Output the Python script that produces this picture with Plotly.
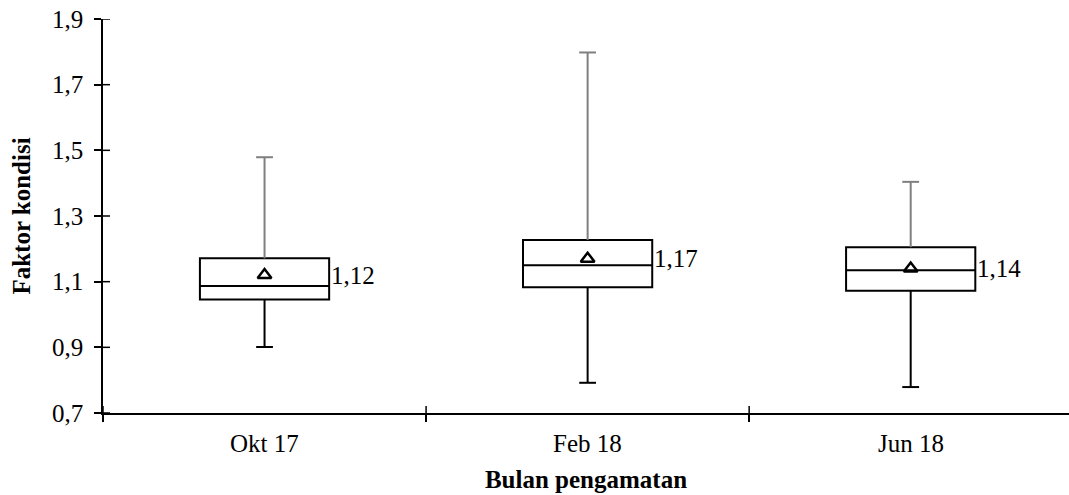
import plotly.graph_objects as go

# Condition factor by observation month
months = ["Okt 17", "Feb 18", "Jun 18"]
whisker_low = [0.901, 0.792, 0.779]
q1 = [1.046, 1.083, 1.072]
median = [1.087, 1.150, 1.135]
q3 = [1.171, 1.227, 1.205]
whisker_high = [1.479, 1.798, 1.404]
mean = [1.12, 1.17, 1.14]
mean_labels = ["1,12", "1,17", "1,14"]
y_ticks = [0.7, 0.9, 1.1, 1.3, 1.5, 1.7, 1.9]
y_tick_text = ["0,7", "0,9", "1,1", "1,3", "1,5", "1,7", "1,9"]

# numeric slot for each month; ticks sit on the slot boundaries
x_pos = list(range(len(months)))
x_bounds = [p - 0.5 for p in x_pos] + [x_pos[-1] + 0.5]

FONT = "Liberation Serif, Times New Roman, serif"
FS = 25
GRAY = "#7f7f7f"
TICK_LEN = 7

fig = go.Figure()

# Upper whiskers (gray) and lower whiskers (black)
for i, p in enumerate(x_pos):
    fig.add_trace(go.Scatter(
        x=[p, p], y=[q3[i], whisker_high[i]], mode="lines",
        line=dict(color=GRAY, width=2), hoverinfo="skip", showlegend=False))
    fig.add_trace(go.Scatter(
        x=[p, p], y=[q1[i], whisker_low[i]], mode="lines",
        line=dict(color="black", width=2), hoverinfo="skip", showlegend=False))

# Whisker caps
fig.add_trace(go.Scatter(
    x=x_pos, y=whisker_high, mode="markers",
    marker=dict(symbol="line-ew", size=12, line=dict(color=GRAY, width=2)),
    hoverinfo="skip", showlegend=False))
fig.add_trace(go.Scatter(
    x=x_pos, y=whisker_low, mode="markers",
    marker=dict(symbol="line-ew", size=12, line=dict(color="black", width=2)),
    hoverinfo="skip", showlegend=False))

# Box bodies
fig.add_trace(go.Box(
    x=x_pos, q1=q1, median=median, q3=q3,
    lowerfence=q1, upperfence=q3,
    width=0.4, whiskerwidth=0,
    fillcolor="white", line=dict(color="black", width=2),
    hoverinfo="skip", showlegend=False))

# Mean markers
fig.add_trace(go.Scatter(
    x=x_pos, y=mean, mode="markers",
    marker=dict(symbol="triangle-up-open", size=12, color="black",
                line=dict(color="black", width=2.5)),
    hoverinfo="skip", showlegend=False))

# Mean value labels beside each box
for p, v, t in zip(x_pos, mean, mean_labels):
    fig.add_annotation(
        x=p, y=v, text=t, showarrow=False, xanchor="left", yanchor="middle",
        xshift=64, font=dict(family=FONT, size=FS, color="black"))

# Month names centred under each slot
for p, m in zip(x_pos, months):
    fig.add_annotation(
        x=p, xref="x", y=0, yref="paper", text=m, showarrow=False,
        xanchor="center", yanchor="top", yshift=-15,
        font=dict(family=FONT, size=FS, color="black"))

# Inner half of the crossing tick marks
for v in y_ticks:
    fig.add_shape(
        type="line", xref="x domain", yref="y", xsizemode="pixel", xanchor=0,
        x0=0, x1=TICK_LEN, y0=v, y1=v, layer="above",
        line=dict(color="black", width=1.5))
for b in x_bounds[:-1]:
    fig.add_shape(
        type="line", xref="x", yref="y domain", ysizemode="pixel", yanchor=0,
        x0=b, x1=b, y0=0, y1=TICK_LEN, layer="above",
        line=dict(color="black", width=1.5))

tick_style = dict(ticks="outside", ticklen=TICK_LEN, tickwidth=1.5, tickcolor="black")

fig.update_layout(
    width=1069, height=495,
    margin=dict(l=103, r=0, t=19, b=82),
    paper_bgcolor="white", plot_bgcolor="white",
    font=dict(family=FONT, size=FS, color="black"),
    xaxis=dict(
        range=[x_bounds[0], x_bounds[-1] - 0.01],
        tickmode="array", tickvals=x_bounds, ticktext=[""] * len(x_bounds),
        **tick_style,
        showline=True, linecolor="black", linewidth=2,
        showgrid=False, zeroline=False,
        title=dict(text="<b>Bulan pengamatan</b>", standoff=44,
                   font=dict(family=FONT, size=FS, color="black"))),
    yaxis=dict(
        range=[y_ticks[0], y_ticks[-1]], tickmode="array",
        tickvals=y_ticks, ticktext=y_tick_text,
        **tick_style,
        ticklabelstandoff=6,
        showline=True, linecolor="black", linewidth=1.5,
        showgrid=False, zeroline=False,
        tickfont=dict(family=FONT, size=FS, color="black"),
        title=dict(text="<b>Faktor kondisi</b>", standoff=14,
                   font=dict(family=FONT, size=FS, color="black"))),
)

fig.write_html("out.html")
